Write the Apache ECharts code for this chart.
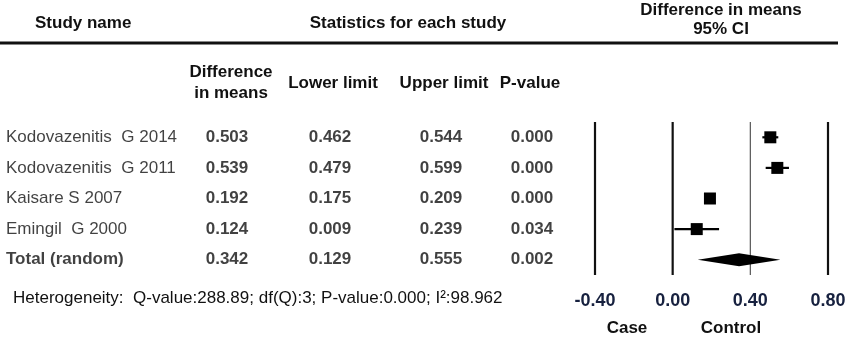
<!DOCTYPE html>
<html>
<head>
<meta charset="utf-8">
<script src="https://cdn.jsdelivr.net/npm/echarts@6/dist/echarts.min.js"></script>
<style>
  html, body { margin: 0; padding: 0; background: #fff; }
  #forest { width: 850px; height: 337px; }
</style>
</head>
<body>
<div id="forest"></div>
<script>
// data
const studies = ['Kodovazenitis  G 2014', 'Kodovazenitis  G 2011', 'Kaisare S 2007', 'Emingil  G 2000', 'Total (random)']
const means = [0.503, 0.539, 0.192, 0.124, 0.342]
const lowers = [0.462, 0.479, 0.175, 0.009, 0.129]
const uppers = [0.544, 0.599, 0.209, 0.239, 0.555]
const pValues = ['0.000', '0.000', '0.000', '0.034', '0.002']
const xTicks = [-0.4, 0, 0.4, 0.8]
const heterogeneity = 'Heterogeneity:  Q-value:288.89; df(Q):3; P-value:0.000; I²:98.962'

const FONT = "'Liberation Sans', Arial, sans-serif"
const rowIdx = studies.map((s, i) => i)

// table column anchors (pixels on the hidden table axis)
const col = { name: 6, diff: 227, lower: 330, upper: 441, p: 532 }

const myChart = echarts.init(document.getElementById('forest'), null, { renderer: 'canvas' })

function textCol(x, texts, bold, align) {
  return {
    type: 'scatter',
    xAxisIndex: 1,
    yAxisIndex: 1,
    symbolSize: 0,
    silent: true,
    data: texts.map((t, i) => ({
      value: [x, i],
      name: t,
      label: (bold === 'last' && i === texts.length - 1) ? { fontWeight: 'bold' } : undefined
    })),
    label: {
      show: true,
      position: align === 'left' ? 'right' : 'inside',
      distance: 0,
      formatter: '{b}',
      color: '#111',
      fontFamily: FONT,
      fontSize: 17,
      fontWeight: bold === true ? 'bold' : 'normal'
    }
  }
}

const option = {
  animation: false,
  grid: [
    { left: 595, right: 22, top: 122, height: 153 },
    { left: 0, right: 0, top: 122, height: 153 }
  ],
  xAxis: [
    {
      type: 'value', gridIndex: 0,
      min: -0.4, max: 0.8, interval: 0.4,
      axisLine: { show: false }, axisTick: { show: false }, splitLine: { show: false },
      axisLabel: {
        margin: 17,
        color: '#17213f',
        fontFamily: FONT,
        fontSize: 18,
        fontWeight: 'bold',
        formatter: v => v.toFixed(2)
      }
    },
    { type: 'value', gridIndex: 1, min: 0, max: 850, show: false }
  ],
  yAxis: [
    { type: 'category', gridIndex: 0, data: rowIdx, inverse: true, show: false },
    { type: 'category', gridIndex: 1, data: rowIdx, inverse: true, show: false }
  ],
  graphic: [
    { type: 'line', shape: { x1: 0, y1: 43, x2: 838, y2: 43 }, style: { stroke: '#111', lineWidth: 3 } },
    { type: 'text', x: 35, y: 23, style: { text: 'Study name', font: 'bold 17px ' + FONT, fill: '#111', verticalAlign: 'middle' } },
    { type: 'text', x: 408, y: 23, style: { text: 'Statistics for each study', font: 'bold 17px ' + FONT, fill: '#111', align: 'center', verticalAlign: 'middle' } },
    { type: 'text', x: 721, y: 10, style: { text: 'Difference in means', font: 'bold 17px ' + FONT, fill: '#111', align: 'center', verticalAlign: 'middle' } },
    { type: 'text', x: 721, y: 29, style: { text: '95% CI', font: 'bold 17px ' + FONT, fill: '#111', align: 'center', verticalAlign: 'middle' } },
    { type: 'text', x: 231, y: 72, style: { text: 'Difference', font: 'bold 17px ' + FONT, fill: '#111', align: 'center', verticalAlign: 'middle' } },
    { type: 'text', x: 231, y: 93, style: { text: 'in means', font: 'bold 17px ' + FONT, fill: '#111', align: 'center', verticalAlign: 'middle' } },
    { type: 'text', x: 333, y: 83, style: { text: 'Lower limit', font: 'bold 17px ' + FONT, fill: '#111', align: 'center', verticalAlign: 'middle' } },
    { type: 'text', x: 444, y: 83, style: { text: 'Upper limit', font: 'bold 17px ' + FONT, fill: '#111', align: 'center', verticalAlign: 'middle' } },
    { type: 'text', x: 530, y: 83, style: { text: 'P-value', font: 'bold 17px ' + FONT, fill: '#111', align: 'center', verticalAlign: 'middle' } },
    { type: 'text', x: 13, y: 298, style: { text: heterogeneity, font: '17px ' + FONT, fill: '#111', verticalAlign: 'middle' } },
    { type: 'text', x: 627, y: 328, style: { text: 'Case', font: 'bold 17px ' + FONT, fill: '#111', align: 'center', verticalAlign: 'middle' } },
    { type: 'text', x: 731, y: 328, style: { text: 'Control', font: 'bold 17px ' + FONT, fill: '#111', align: 'center', verticalAlign: 'middle' } }
  ],
  series: [
    // vertical reference lines at each tick
    {
      type: 'custom',
      xAxisIndex: 0, yAxisIndex: 0,
      silent: true,
      data: xTicks.map(v => [v]),
      encode: { x: 0 },
      renderItem: function (params, api) {
        const v = api.value(0)
        const cs = params.coordSys
        const x = api.coord([v, 0])[0]
        const thin = Math.abs(v - 0.4) < 1e-9
        return {
          type: 'line',
          shape: { x1: x, y1: cs.y, x2: x, y2: cs.y + cs.height },
          style: { stroke: thin ? '#555' : '#111', lineWidth: thin ? 1.2 : 2.2 }
        }
      }
    },
    // study effects and pooled diamond
    {
      type: 'custom',
      xAxisIndex: 0, yAxisIndex: 0,
      silent: true,
      data: studies.map((s, i) => [means[i], lowers[i], uppers[i], i]),
      encode: { x: [0, 1, 2], y: 3 },
      renderItem: function (params, api) {
        const i = api.value(3)
        const m = api.coord([api.value(0), i])
        const lo = api.coord([api.value(1), i])
        const hi = api.coord([api.value(2), i])
        if (i === studies.length - 1) {
          const h = 6.5
          return {
            type: 'polygon',
            shape: { points: [[lo[0], m[1]], [m[0], m[1] - h], [hi[0], m[1]], [m[0], m[1] + h]] },
            style: { fill: '#000' }
          }
        }
        const sz = 12
        return {
          type: 'group',
          children: [
            { type: 'line', shape: { x1: lo[0], y1: m[1], x2: hi[0], y2: m[1] }, style: { stroke: '#000', lineWidth: 2.2 } },
            { type: 'rect', shape: { x: m[0] - sz / 2, y: m[1] - sz / 2, width: sz, height: sz }, style: { fill: '#000' } }
          ]
        }
      }
    },
    // table columns
    textCol(col.name, studies, 'last', 'left'),
    textCol(col.diff, means.map(v => v.toFixed(3)), true),
    textCol(col.lower, lowers.map(v => v.toFixed(3)), true),
    textCol(col.upper, uppers.map(v => v.toFixed(3)), true),
    textCol(col.p, pValues, true)
  ]
}

myChart.setOption(option)
</script>
</body>
</html>
